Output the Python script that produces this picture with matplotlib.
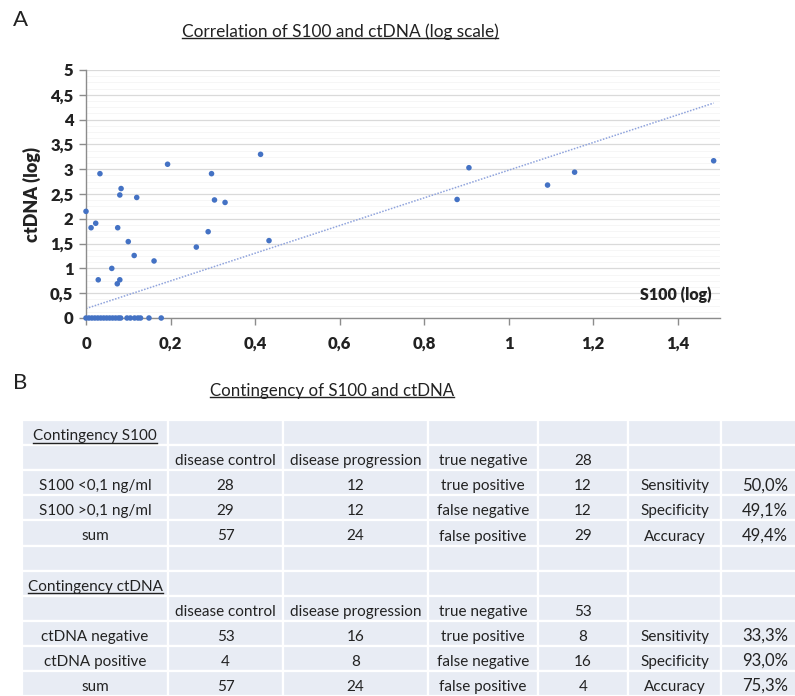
import matplotlib
matplotlib.use("Agg")
import matplotlib.pyplot as plt
from matplotlib.patches import Rectangle
from matplotlib.lines import Line2D
import numpy as np

plt.rcParams['font.family'] = ['Lato', 'DejaVu Sans']

# ---------------- data: scatter ----------------
s100_log = [0.0, 0.012, 0.023, 0.033, 0.029, 0.061, 0.074, 0.080, 0.075, 0.080,
            0.083, 0.100, 0.114, 0.120, 0.161, 0.193, 0.261, 0.289, 0.297, 0.304,
            0.329, 0.413, 0.433, 0.878, 0.906, 1.092, 1.156, 1.485]
ctdna_log = [2.15, 1.82, 1.91, 2.91, 0.77, 1.00, 0.69, 0.77, 1.82, 2.48,
             2.61, 1.54, 1.26, 2.43, 1.15, 3.10, 1.43, 1.74, 2.91, 2.38,
             2.33, 3.30, 1.56, 2.39, 3.03, 2.68, 2.94, 3.17]
s100_log_zero_ctdna = [0.0, 0.007, 0.014, 0.021, 0.028, 0.035, 0.042, 0.049, 0.056,
                       0.063, 0.070, 0.077, 0.082, 0.097, 0.105, 0.115, 0.123,
                       0.129, 0.149, 0.178]
trend_intercept = 0.19
trend_slope = 2.79

x_ticks = [0, 0.2, 0.4, 0.6, 0.8, 1.0, 1.2, 1.4]
x_tick_labels = ["0", "0,2", "0,4", "0,6", "0,8", "1", "1,2", "1,4"]
y_ticks = [0, 0.5, 1, 1.5, 2, 2.5, 3, 3.5, 4, 4.5, 5]
y_tick_labels = ["0", "0,5", "1", "1,5", "2", "2,5", "3", "3,5", "4", "4,5", "5"]

# ---------------- data: tables ----------------
group_headers = ["disease control", "disease progression"]
class_labels = ["true negative", "true positive", "false negative", "false positive"]
metric_labels = ["Sensitivity", "Specificity", "Accuracy"]

s100_rows = ["S100 <0,1 ng/ml", "S100 >0,1 ng/ml", "sum"]
s100_control = [28, 29, 57]
s100_progression = [12, 12, 24]
s100_class_counts = [28, 12, 12, 29]
s100_metrics = ["50,0%", "49,1%", "49,4%"]

ctdna_rows = ["ctDNA negative", "ctDNA positive", "sum"]
ctdna_control = [53, 4, 57]
ctdna_progression = [16, 8, 24]
ctdna_class_counts = [53, 8, 16, 4]
ctdna_metrics = ["33,3%", "93,0%", "75,3%"]

# ---------------- figure ----------------
W, H = 795, 696
fig = plt.figure(figsize=(W / 100, H / 100), dpi=100)
fig.patch.set_facecolor("white")

def fx(px):
    return px / W

def fy(py):
    return 1 - py / H

TXT = "#222222"

# scatter axes
ax = fig.add_axes([fx(86), fy(318), fx(720) - fx(86), fy(70) - fy(318)])
ax.set_xlim(0, 1.5)
ax.set_ylim(0, 5)
ax.set_yticks(y_ticks)
ax.set_yticklabels(y_tick_labels)
ax.set_xticks(x_ticks)
ax.set_xticklabels(x_tick_labels)
ax.set_yticks(np.arange(0, 5.01, 0.125), minor=True)
ax.grid(True, axis="y", which="major", color="#dadada", lw=0.9, zorder=0)
ax.grid(True, axis="y", which="minor", color="#f6f6f6", lw=0.7, zorder=0)
for s in ["top", "right"]:
    ax.spines[s].set_visible(False)
for s in ["left", "bottom"]:
    ax.spines[s].set_color("#8c8c8c")
    ax.spines[s].set_linewidth(1.0)
ax.tick_params(axis="both", which="major", direction="out", length=5, width=1,
               color="#8c8c8c", labelsize=12, labelcolor=TXT, pad=4)
ax.tick_params(axis="y", which="minor", length=0)
for lab in ax.get_xticklabels() + ax.get_yticklabels():
    lab.set_fontweight("heavy")
ax.tick_params(axis="x", pad=8)

xs_line = np.array([0, max(s100_log)])
ax.plot(xs_line, trend_intercept + trend_slope * xs_line, ls=(0, (1, 1)),
        color="#8fa3dc", lw=1.1, zorder=2)
ax.scatter(s100_log, ctdna_log, s=16, color="#4472c4", edgecolors="none", zorder=3,
           clip_on=False)
ax.scatter(s100_log_zero_ctdna, [0] * len(s100_log_zero_ctdna), s=16,
           color="#4472c4", edgecolors="none", zorder=3, clip_on=False)
ax.set_ylabel("ctDNA (log)", fontsize=13, fontweight="heavy", color=TXT)
ax.yaxis.set_label_coords((41 - 86) / (720 - 86), 0.5)
ax.text(1.5 * (712 - 86) / (720 - 86), (318 - 295) / 49.6, "S100 (log)",
        ha="right", va="center", fontsize=11.5, fontweight="heavy", color=TXT)

# overlay axes in pixel coords for texts and table
ov = fig.add_axes([0, 0, 1, 1])
ov.set_xlim(0, W)
ov.set_ylim(H, 0)
ov.axis("off")

underlined = []

ov.text(13, 20, "A", fontsize=16, color=TXT, va="center", ha="left")
ov.text(13, 383, "B", fontsize=16, color=TXT, va="center", ha="left")
t = ov.text(340, 32, "Correlation of S100 and ctDNA (log scale)", fontsize=12.4,
            color=TXT, ha="center", va="center")
underlined.append(t)
t = ov.text(332, 391, "Contingency of S100 and ctDNA", fontsize=12.2,
            color=TXT, ha="center", va="center")
underlined.append(t)

# table geometry
col_edges = [22, 168, 283, 428, 538, 628, 721, 800]
row_top = 420
row_h = 25.1
n_rows = 11
cell_color = "#e8ecf4"
for r in range(n_rows):
    for c in range(len(col_edges) - 1):
        ov.add_patch(Rectangle((col_edges[c], row_top + r * row_h),
                               col_edges[c + 1] - col_edges[c], row_h,
                               facecolor=cell_color, edgecolor="white", lw=1.6,
                               clip_on=False))

col_centers = [(col_edges[i] + col_edges[i + 1]) / 2 for i in range(len(col_edges) - 1)]
FS = 11

def cell(r, c, s, ha="center", uline=False, fs=FS):
    y = row_top + (r + 1) * row_h - 5
    if ha == "right":
        x = 788
    else:
        x = col_centers[c]
    tt = ov.text(x, y, s, fontsize=fs, color=TXT, ha=ha, va="baseline")
    if uline:
        underlined.append(tt)

def block(r0, title, rows, control, progression, counts, metrics):
    cell(r0, 0, title, uline=True)
    cell(r0 + 1, 1, group_headers[0])
    cell(r0 + 1, 2, group_headers[1])
    for i in range(4):
        cell(r0 + 1 + i, 3, class_labels[i])
        cell(r0 + 1 + i, 4, str(counts[i]))
    for i in range(3):
        cell(r0 + 2 + i, 0, rows[i])
        cell(r0 + 2 + i, 1, str(control[i]))
        cell(r0 + 2 + i, 2, str(progression[i]))
        cell(r0 + 2 + i, 5, metric_labels[i])
        cell(r0 + 2 + i, 6, metrics[i], ha="right", fs=12)

block(0, "Contingency S100", s100_rows, s100_control, s100_progression,
      s100_class_counts, s100_metrics)
block(6, "Contingency ctDNA", ctdna_rows, ctdna_control, ctdna_progression,
      ctdna_class_counts, ctdna_metrics)

# underline texts
fig.canvas.draw()
renderer = fig.canvas.get_renderer()
for tt in underlined:
    bb = tt.get_window_extent(renderer)
    x0, x1 = bb.x0, bb.x1
    y_px = H - bb.y0
    if tt.get_va() == "baseline":
        y_line = tt.get_position()[1] + 2.5
    else:
        y_line = y_px - 2.0
    ov.add_line(Line2D([x0, x1], [y_line, y_line], color=TXT, lw=1.0))

fig.savefig("out.png", dpi=100)
